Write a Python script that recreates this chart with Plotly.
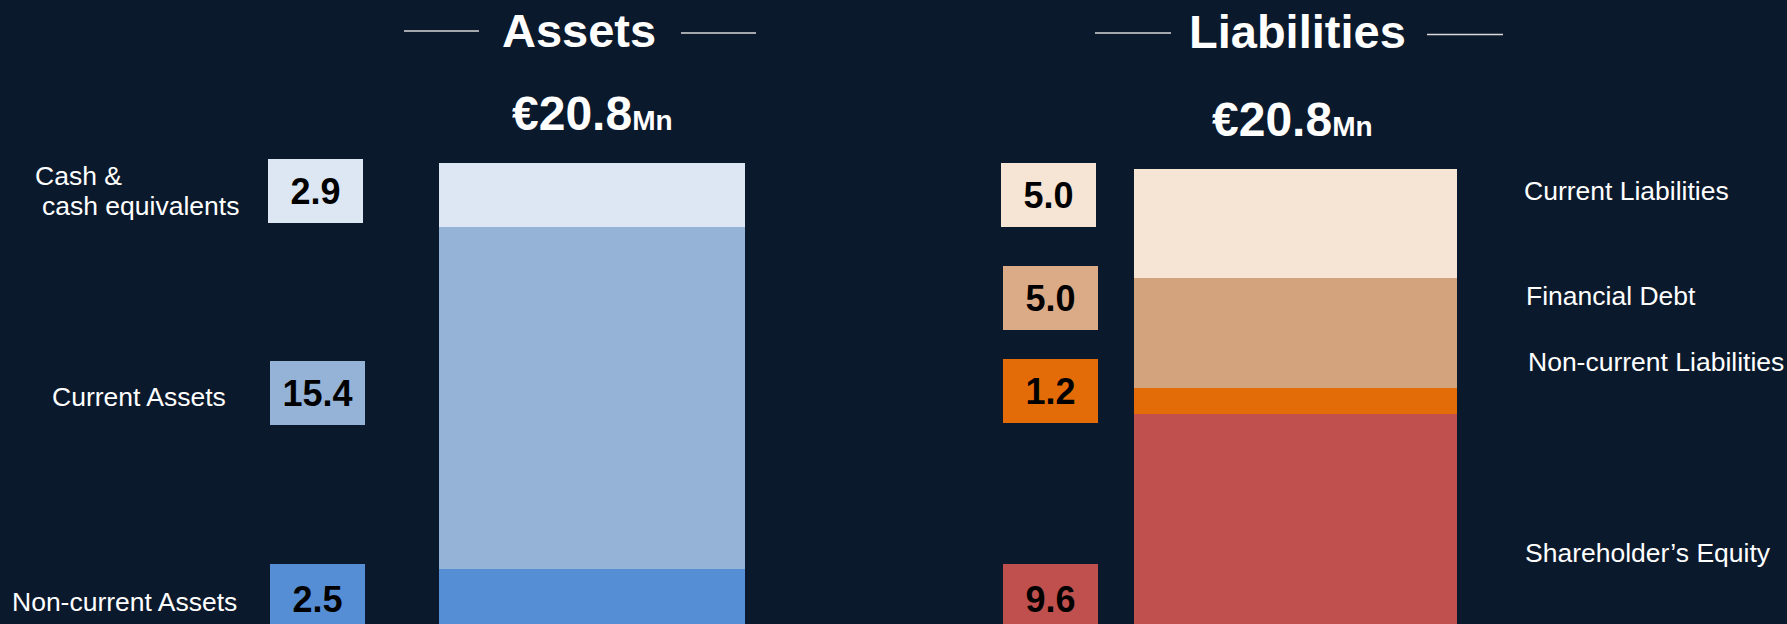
import plotly.graph_objects as go

# ---- data -------------------------------------------------------------
asset_items = ["Non-current Assets", "Current Assets", "Cash & cash equivalents"]
asset_values = [2.5, 15.4, 2.9]
asset_colors = ["#558ed5", "#95b3d7", "#dde7f3"]

liab_items = ["Shareholder’s Equity", "Non-current Liabilities", "Financial Debt", "Current Liabilities"]
liab_values = [9.6, 1.2, 5.0, 5.0]
liab_colors = ["#c0504d", "#e36c09", "#d2a37d", "#f6e4d5"]
liab_box_colors = ["#c0504d", "#e36c09", "#dbaa86", "#f6e4d5"]

unit_prefix = "€"
unit_suffix = "Mn"

# ---- page geometry (pixels) ------------------------------------------
W, H = 1787, 624
BG = "#0b192c"
FONT = "Liberation Sans, Arial, sans-serif"


def px(x):
    return x / W


def py(y):
    return 1 - y / H


# value boxes: left, top, height
asset_box_pos = {
    "Non-current Assets": (270, 564, 70),
    "Current Assets": (270, 361, 64),
    "Cash & cash equivalents": (268, 159, 64),
}
liab_box_pos = {
    "Shareholder’s Equity": (1003, 564, 70),
    "Non-current Liabilities": (1003, 359, 64),
    "Financial Debt": (1003, 266, 64),
    "Current Liabilities": (1001, 163, 64),
}
# item names: list of (line text, left, vertical middle)
asset_name_pos = {
    "Non-current Assets": [("Non-current Assets", 11, 602)],
    "Current Assets": [("Current Assets", 51, 397)],
    "Cash & cash equivalents": [("Cash &", 34, 176), ("cash equivalents", 41, 206)],
}
liab_name_pos = {
    "Shareholder’s Equity": [("Shareholder’s Equity", 1524, 553)],
    "Non-current Liabilities": [("Non-current Liabilities", 1527, 362)],
    "Financial Debt": [("Financial Debt", 1525, 296)],
    "Current Liabilities": [("Current Liabilities", 1523, 191)],
}

fig = go.Figure()

for name, val, col in zip(asset_items, asset_values, asset_colors):
    fig.add_trace(go.Bar(x=["Assets"], y=[val], name=name, marker=dict(color=col, line=dict(width=0)),
                         width=1, xaxis="x", yaxis="y", hoverinfo="skip", showlegend=False))
for name, val, col in zip(liab_items, liab_values, liab_colors):
    fig.add_trace(go.Bar(x=["Liabilities"], y=[val], name=name, marker=dict(color=col, line=dict(width=0)),
                         width=1, xaxis="x2", yaxis="y2", hoverinfo="skip", showlegend=False))

asset_total = sum(asset_values)
liab_total = sum(liab_values)

annotations = []


def box(text, left, top, height, color):
    annotations.append(dict(
        text=f"<b>{text}</b>", xref="paper", yref="paper", x=px(left), y=py(top),
        xanchor="left", yanchor="top", width=95, height=height, bgcolor=color,
        borderpad=0, borderwidth=0, showarrow=False, align="center", valign="middle",
        font=dict(family=FONT, size=36, color="#000000")))


def label(text, left, mid):
    annotations.append(dict(
        text=text, xref="paper", yref="paper", x=px(left), y=py(mid),
        xanchor="left", yanchor="middle", showarrow=False, borderpad=0,
        font=dict(family=FONT, size=26.5, color="#ffffff")))


for name, val, col in zip(asset_items, asset_values, asset_colors):
    l, t, h = asset_box_pos[name]
    box(f"{val:.1f}", l, t, h, col)
    for txt, x, y in asset_name_pos[name]:
        label(txt, x, y)

for name, val, col in zip(liab_items, liab_values, liab_box_colors):
    l, t, h = liab_box_pos[name]
    box(f"{val:.1f}", l, t, h, col)
    for txt, x, y in liab_name_pos[name]:
        label(txt, x, y)

# section titles and totals
for title, cx, cy in [("Assets", 578.5, 30), ("Liabilities", 1297.5, 31.5)]:
    annotations.append(dict(
        text=f"<b>{title}</b>", xref="paper", yref="paper", x=px(cx), y=py(cy),
        xanchor="center", yanchor="middle", showarrow=False, borderpad=0,
        font=dict(family=FONT, size=47, color="#ffffff")))

for total, cx, cy in [(asset_total, 592, 113), (liab_total, 1292.5, 120)]:
    annotations.append(dict(
        text=f"<b>{unit_prefix}{total:.1f}<span style='font-size:28px'>{unit_suffix}</span></b>",
        xref="paper", yref="paper", x=px(cx), y=py(cy),
        xanchor="center", yanchor="middle", showarrow=False, borderpad=0,
        font=dict(family=FONT, size=48, color="#ffffff")))

# thin rules either side of the titles
shapes = []
for x0, x1, y in [(404, 479, 31), (681, 756, 33), (1095, 1171, 33), (1427, 1503, 34.5)]:
    shapes.append(dict(type="line", xref="paper", yref="paper", x0=px(x0), x1=px(x1),
                       y0=py(y), y1=py(y), line=dict(color="#d9d9d9", width=1.5)))

fig.update_layout(
    width=W, height=H,
    margin=dict(l=0, r=0, t=0, b=0, pad=0),
    paper_bgcolor=BG, plot_bgcolor=BG,
    barmode="stack", bargap=0,
    annotations=annotations, shapes=shapes,
    xaxis=dict(domain=[px(439), px(745)], range=[-0.5, 0.5], visible=False, fixedrange=True),
    yaxis=dict(domain=[0, 1 - 163 / H], range=[0, asset_total], visible=False, fixedrange=True),
    xaxis2=dict(domain=[px(1134), px(1457)], range=[-0.5, 0.5], visible=False, anchor="y2", fixedrange=True),
    yaxis2=dict(domain=[0, 1 - 169 / H], range=[0, liab_total], visible=False, anchor="x2", fixedrange=True),
    hovermode=False,
)

fig.write_html("out.html", config=dict(displayModeBar=False))
